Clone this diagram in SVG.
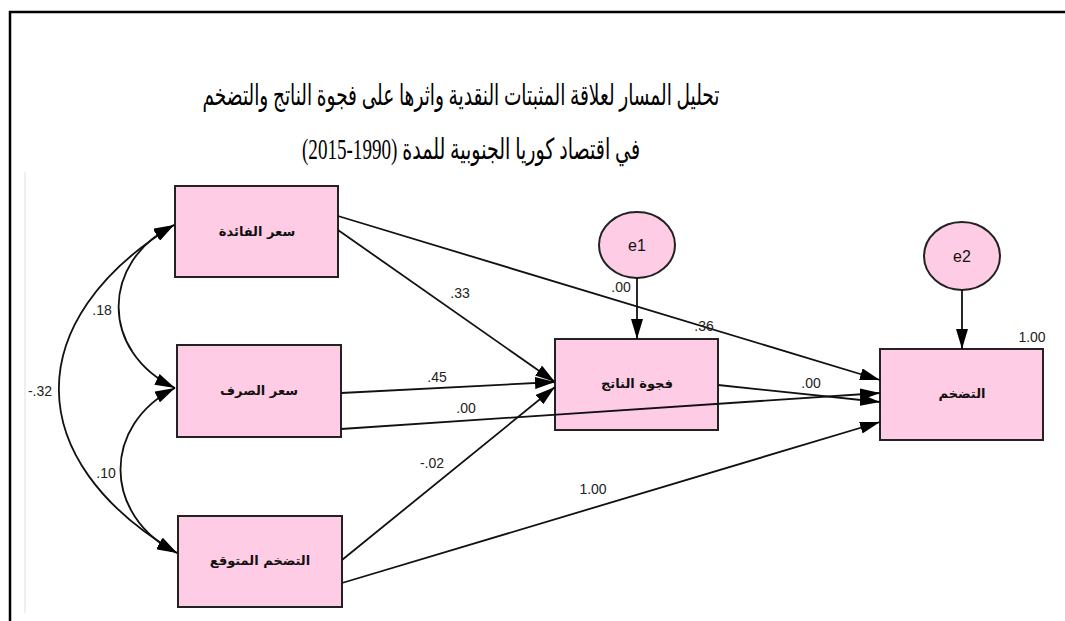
<svg xmlns="http://www.w3.org/2000/svg" width="1065" height="621" viewBox="0 0 1065 621">
<style>
.frame{stroke:#000;stroke-width:2.5;fill:none}
.gray{stroke:#efefef;stroke-width:2;fill:none}
.title{font-family:"Liberation Serif","DejaVu Sans",serif;font-size:29px;fill:#000;direction:rtl}
.box{fill:#ffcce6;stroke:#222;stroke-width:2}
.ell{fill:#ffcce6;stroke:#222;stroke-width:2}
.nl{font-family:"DejaVu Sans",sans-serif;font-size:13px;font-weight:bold;fill:#111;text-anchor:middle;direction:rtl}
.el{font-family:"Liberation Sans",Arial,sans-serif;font-size:16px;fill:#111;text-anchor:middle}
.lab{font-family:"Liberation Sans",Arial,sans-serif;font-size:14px;fill:#222;text-anchor:middle}
.con{stroke:#111;stroke-width:1.8;fill:none}
.arr{marker-end:url(#ah)}
.dbl{marker-end:url(#ah);marker-start:url(#ah)}
</style>
<defs>
<marker id="ah" viewBox="0 0 20 12" refX="20" refY="6" markerWidth="20" markerHeight="12" markerUnits="userSpaceOnUse" orient="auto-start-reverse">
<path d="M0,0 L20,6 L0,12 z" fill="#000"/>
</marker>
</defs>
<rect width="1065" height="621" fill="#fff"/>
<path class="frame" d="M10,621 L10,12 L1065,12"/>
<path class="gray" d="M25,172 L25,613"/>
<g id="title">
<text class="title" x="461" y="105" text-anchor="middle" textLength="517" lengthAdjust="spacingAndGlyphs">تحليل المسار لعلاقة المثبتات النقدية واثرها على فجوة الناتج والتضخم</text>
<text class="title" x="471" y="159" text-anchor="middle" textLength="338" lengthAdjust="spacingAndGlyphs">في اقتصاد كوريا الجنوبية للمدة (1990-2015)</text>
</g>
<g id="n_interest">
<rect class="box" x="175" y="186" width="163" height="91"/>
<text class="nl" x="257" y="236">سعر الفائدة</text>
</g>
<g id="n_exchange">
<rect class="box" x="177" y="345" width="164" height="92"/>
<text class="nl" x="259" y="395">سعر الصرف</text>
</g>
<g id="n_expinfl">
<rect class="box" x="178" y="516" width="164" height="91"/>
<text class="nl" x="260" y="565">التضخم المتوقع</text>
</g>
<g id="n_gap">
<rect class="box" x="555" y="339" width="163" height="91"/>
<text class="nl" x="637" y="388">فجوة الناتج</text>
</g>
<g id="n_infl">
<rect class="box" x="880" y="349" width="163" height="91"/>
<text class="nl" x="962" y="398">التضخم</text>
</g>
<g id="n_e1">
<ellipse class="ell" cx="637" cy="245" rx="38" ry="33"/>
<text class="el" x="637" y="251">e1</text>
</g>
<g id="n_e2">
<ellipse class="ell" cx="962" cy="256" rx="38" ry="34"/>
<text class="el" x="962" y="262">e2</text>
</g>
<g id="connectors">
<path class="con arr" d="M338,230 L555,382"/>
<path class="con arr" d="M338,216 L880,380"/>
<path class="con arr" d="M341,393 L555,382"/>
<path class="con arr" d="M341,429 L880,393"/>
<path class="con arr" d="M718,385 L880,402"/>
<path class="con arr" d="M342,560 L555,387"/>
<path class="con arr" d="M342,583 L880,422"/>
<path class="con arr" d="M637,278 L637,339"/>
<path class="con arr" d="M962,290 L962,349"/>
<path class="con dbl" d="M174,225 C100,262 100,352 175,388"/>
<path class="con dbl" d="M175,388 C102,425 102,515 177,553"/>
<path class="con dbl" d="M174,225 C20,320 20,460 177,553"/>
</g>
<g id="labels">
<text class="lab" x="460" y="298">.33</text>
<text class="lab" x="704" y="331">.36</text>
<text class="lab" x="621" y="292">.00</text>
<text class="lab" x="437" y="382">.45</text>
<text class="lab" x="466" y="413">.00</text>
<text class="lab" x="811" y="388">.00</text>
<text class="lab" x="1032" y="342">1.00</text>
<text class="lab" x="432" y="468">-.02</text>
<text class="lab" x="593" y="494">1.00</text>
<text class="lab" x="102" y="315">.18</text>
<text class="lab" x="106" y="478">.10</text>
<text class="lab" x="40" y="396">-.32</text>
</g>
</svg>
